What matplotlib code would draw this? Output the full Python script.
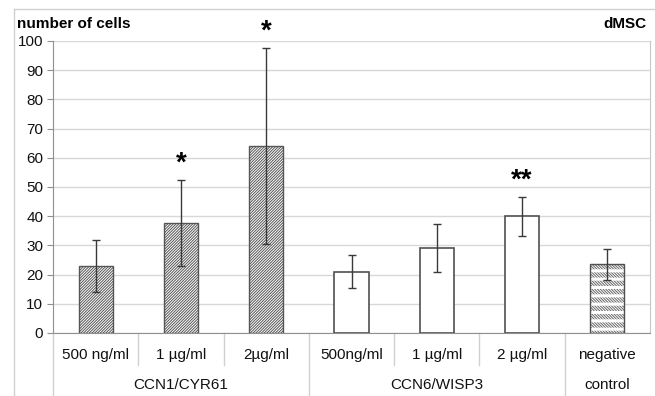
import numpy as np
import matplotlib
matplotlib.use("Agg")
import matplotlib.pyplot as plt
from matplotlib.lines import Line2D

plt.rcParams['font.family'] = ['Liberation Sans', 'DejaVu Sans']

# data
doses = ['500 ng/ml', '1 µg/ml', '2µg/ml', '500ng/ml', '1 µg/ml', '2 µg/ml', 'negative']
groups = ['CCN1/CYR61', 'CCN6/WISP3', 'control']
group_spans = [(0, 3), (3, 6), (6, 7)]
cells = [23.0, 37.7, 64.1, 21.0, 29.2, 40.0, 23.5]
err = [9.0, 14.7, 33.5, 5.6, 8.3, 6.7, 5.2]
stars = {1: '*', 2: '*', 5: '**'}

W, H = 655, 396
fig = plt.figure(figsize=(W / 100, H / 100), dpi=100)
ax = fig.add_axes([53 / W, 1 - 333 / H, (650 - 53) / W, (333 - 41) / H])

x = np.arange(len(cells))
dark = '#3a3a3a'

# hatched / plain bars
for i, v in enumerate(cells):
    if i < 3:
        with plt.rc_context({'hatch.linewidth': 0.7}):
            ax.bar(x[i], v, 0.4, color='white', edgecolor='#555555', hatch='/' * 12, lw=1, zorder=3)
    elif i < 6:
        ax.bar(x[i], v, 0.4, color='white', edgecolor='#505050', lw=1.2, zorder=3)
    else:
        with plt.rc_context({'hatch.linewidth': 0.7}):
            ax.bar(x[i], v, 0.4, color='white', edgecolor='#666666', hatch='\\' * 12, lw=0, zorder=3)
        with plt.rc_context({'hatch.linewidth': 2.2}):
            ax.bar(x[i], v, 0.4, color='none', edgecolor='white', hatch='--', lw=0, zorder=3.5)
        ax.bar(x[i], v, 0.4, color='none', edgecolor='#505050', lw=1, zorder=3.6)

ax.errorbar(x, cells, yerr=err, fmt='none', ecolor=dark, elinewidth=1, capsize=3, capthick=1, zorder=4)

for i, s in stars.items():
    ax.text(x[i], cells[i] + err[i] + 1, s, ha='center', va='bottom', fontsize=20,
            fontweight='bold', color='black', zorder=5)

ax.set_xlim(-0.5, len(cells) - 0.5)
ax.set_ylim(0, 100)
ax.set_yticks(np.arange(0, 101, 10))
ax.tick_params(axis='y', labelsize=11, length=4, color='#909090', pad=3, labelcolor='#111111')
ax.set_xticks([])
ax.yaxis.grid(True, color='#d8d8d8', lw=1)
ax.set_axisbelow(True)
ax.spines['top'].set_visible(False)
ax.spines['right'].set_color('#c8c8c8')
ax.spines['left'].set_color('#909090')
ax.spines['bottom'].set_color('#909090')

# category table below the axis
tr = ax.get_xaxis_transform()
px = 1 / (333 - 41)
for b in [1, 2, 4, 5]:
    ax.add_line(Line2D([b - 0.5, b - 0.5], [0, -32 * px], transform=tr, color='#d0d0d0', lw=1, clip_on=False))
for b in [0, 3, 6]:
    ax.add_line(Line2D([b - 0.5, b - 0.5], [0, -70 * px], transform=tr, color='#d0d0d0', lw=1, clip_on=False))
for i, lab in enumerate(doses):
    ax.text(x[i], -22 * px, lab, transform=tr, ha='center', va='center', fontsize=11, color='#111111')
for g, (a, b) in zip(groups, group_spans):
    ax.text((a + b - 1) / 2, -52 * px, g, transform=tr, ha='center', va='center', fontsize=11, color='#111111')

# outer frame
fig.add_artist(Line2D([14 / W, 14 / W], [0, 1 - 9 / H], transform=fig.transFigure, color='#d0d0d0', lw=1))
fig.add_artist(Line2D([14 / W, 1], [1 - 9 / H, 1 - 9 / H], transform=fig.transFigure, color='#d0d0d0', lw=1))

fig.text(17 / W, 1 - 24 / H, 'number of cells', ha='left', va='center', fontsize=11, fontweight='bold')
fig.text(647 / W, 1 - 24 / H, 'dMSC', ha='right', va='center', fontsize=11, fontweight='bold')

fig.savefig('out.png', dpi=100)
